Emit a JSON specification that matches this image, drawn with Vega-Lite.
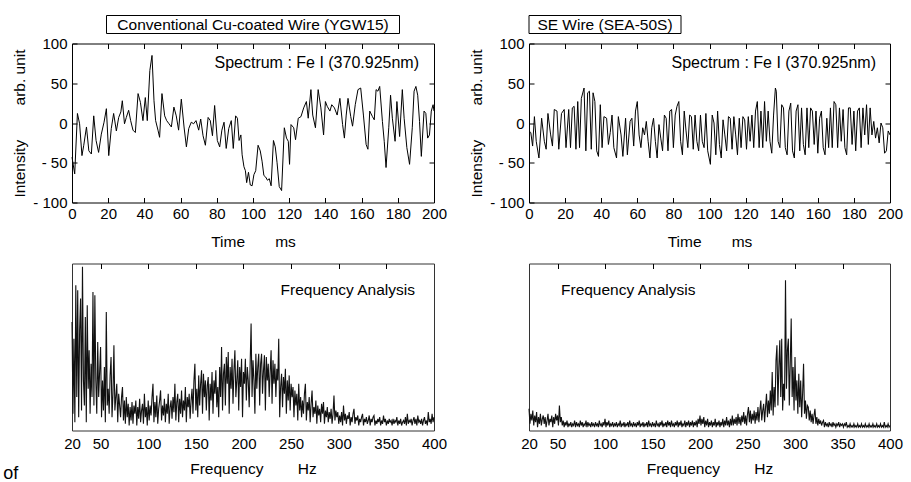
{
"$schema":"https://vega.github.io/schema/vega-lite/v6.json",
"background":"white",
"padding":{"left":3,"top":14.5,"right":5,"bottom":0},
"title":{"text":"of","orient":"bottom","anchor":"start","frame":"bounds","fontSize":18,"offset":-12,"dx":-9},
"config":{
 "font":"Liberation Sans",
 "view":{"stroke":"black","strokeWidth":1},
 "axis":{"labelFont":"Liberation Sans","labelFontSize":15,"labelColor":"black","titleFont":"Liberation Sans","titleFontSize":15.5,"titleFontWeight":"normal","titleColor":"black","tickColor":"black","tickWidth":1,"domain":false,"grid":false,"labelFlush":false,"labelOverlap":false},
 "title":{"font":"Liberation Sans","fontWeight":"normal","color":"black","fontSize":15.5}
},
"datasets":{
"tl":[{"t":0,"v":-43},{"t":1.5,"v":-64},{"t":3,"v":12},{"t":4.2,"v":-1},{"t":5.5,"v":-41},{"t":6.5,"v":-28},{"t":8,"v":-5},{"t":9.3,"v":-35},{"t":10.7,"v":-39},{"t":12,"v":9},{"t":13.3,"v":-22},{"t":14.7,"v":-37},{"t":16.2,"v":-14},{"t":17.7,"v":1},{"t":19,"v":18},{"t":20.3,"v":-41},{"t":21.7,"v":-7},{"t":23,"v":12},{"t":24.5,"v":-10},{"t":25.8,"v":7},{"t":27,"v":14},{"t":27.8,"v":28},{"t":29,"v":-1},{"t":30,"v":7},{"t":31.3,"v":16},{"t":32.4,"v":3},{"t":33.7,"v":-9},{"t":35,"v":-12},{"t":36.5,"v":37},{"t":37.8,"v":26},{"t":39.2,"v":3},{"t":40.5,"v":32},{"t":41.6,"v":3},{"t":43,"v":66},{"t":44.2,"v":85},{"t":45.3,"v":28},{"t":46.2,"v":3},{"t":47.5,"v":-9},{"t":48.4,"v":-18},{"t":49.7,"v":37},{"t":51.2,"v":9},{"t":52.3,"v":3},{"t":53.6,"v":-1},{"t":54.9,"v":-5},{"t":56.3,"v":20},{"t":57.6,"v":9},{"t":58.9,"v":-9},{"t":60.4,"v":30},{"t":61.9,"v":-5},{"t":63.2,"v":-30},{"t":64.5,"v":-7},{"t":65.9,"v":1},{"t":67.2,"v":-1},{"t":68.5,"v":3},{"t":70,"v":-9},{"t":71.1,"v":5},{"t":72.4,"v":-16},{"t":73.7,"v":-28},{"t":75.2,"v":7},{"t":76.4,"v":3},{"t":77.6,"v":-16},{"t":78.8,"v":22},{"t":80.3,"v":-22},{"t":81.6,"v":-30},{"t":82.8,"v":-9},{"t":84,"v":1},{"t":85.2,"v":-32},{"t":86.6,"v":-7},{"t":88,"v":3},{"t":89.1,"v":-32},{"t":90.4,"v":9},{"t":91.4,"v":6},{"t":92.3,"v":-22},{"t":93.3,"v":-15},{"t":94,"v":-40},{"t":95,"v":-55},{"t":95.8,"v":-60},{"t":96.5,"v":-75},{"t":97.5,"v":-62},{"t":98.5,"v":-78},{"t":99.5,"v":-79},{"t":100.5,"v":-65},{"t":101.5,"v":-60},{"t":102.8,"v":-28},{"t":104,"v":-35},{"t":105,"v":-48},{"t":106,"v":-66},{"t":107,"v":-68},{"t":108,"v":-72},{"t":109,"v":-70},{"t":110,"v":-79},{"t":111.3,"v":-22},{"t":112.3,"v":-30},{"t":113.3,"v":-50},{"t":114.5,"v":-80},{"t":115.8,"v":-85},{"t":117.3,"v":-6},{"t":118.5,"v":-19},{"t":119.5,"v":-23},{"t":120.2,"v":-52},{"t":121,"v":-2},{"t":122.5,"v":-6},{"t":123.5,"v":-21},{"t":125,"v":6},{"t":126.5,"v":8},{"t":128,"v":19},{"t":129.5,"v":27},{"t":130.5,"v":6},{"t":132,"v":42},{"t":133,"v":10},{"t":134.5,"v":-6},{"t":136,"v":42},{"t":137.5,"v":19},{"t":139,"v":-15},{"t":140,"v":27},{"t":141,"v":21},{"t":142.5,"v":15},{"t":143.5,"v":23},{"t":145,"v":19},{"t":146.5,"v":10},{"t":148,"v":31},{"t":149.5,"v":-2},{"t":150.5,"v":-19},{"t":151.5,"v":10},{"t":152.5,"v":31},{"t":154,"v":8},{"t":155,"v":-4},{"t":156.5,"v":23},{"t":158,"v":42},{"t":159.5,"v":44},{"t":161,"v":10},{"t":162.5,"v":-27},{"t":163.5,"v":-33},{"t":164.5,"v":15},{"t":166,"v":8},{"t":167,"v":4},{"t":168,"v":42},{"t":169,"v":40},{"t":170,"v":46},{"t":171.5,"v":2},{"t":172.5,"v":-23},{"t":173.5,"v":-56},{"t":175,"v":-6},{"t":176,"v":35},{"t":177,"v":6},{"t":178.5,"v":-23},{"t":179.5,"v":27},{"t":181,"v":-17},{"t":182.5,"v":42},{"t":183.5,"v":6},{"t":185,"v":-31},{"t":186.5,"v":-52},{"t":188,"v":-6},{"t":189,"v":40},{"t":190,"v":46},{"t":191,"v":35},{"t":192,"v":2},{"t":193,"v":-42},{"t":194.5,"v":15},{"t":195.5,"v":12},{"t":196.5,"v":-19},{"t":197.5,"v":-15},{"t":198.5,"v":15},{"t":199.5,"v":23},{"t":200,"v":15}],
"tr":[{"t":0,"v":-10},{"t":1,"v":-12},{"t":2,"v":-29},{"t":3,"v":8},{"t":4,"v":-23},{"t":5.5,"v":-44},{"t":7,"v":6},{"t":8.5,"v":-23},{"t":9.5,"v":-33},{"t":10.5,"v":12},{"t":12,"v":-15},{"t":13,"v":-29},{"t":14,"v":17},{"t":15.5,"v":15},{"t":16.5,"v":-33},{"t":18,"v":12},{"t":19.5,"v":17},{"t":20.5,"v":-31},{"t":22,"v":17},{"t":23,"v":-31},{"t":24,"v":19},{"t":25,"v":21},{"t":26,"v":-33},{"t":27,"v":27},{"t":28,"v":-31},{"t":29,"v":31},{"t":30.5,"v":44},{"t":31.5,"v":-35},{"t":32.5,"v":38},{"t":33.5,"v":40},{"t":34.5,"v":-33},{"t":35.5,"v":38},{"t":36.5,"v":27},{"t":37.5,"v":-35},{"t":38.5,"v":-42},{"t":39.5,"v":23},{"t":40.5,"v":-31},{"t":41.5,"v":8},{"t":43,"v":6},{"t":44,"v":-27},{"t":45,"v":-12},{"t":46,"v":10},{"t":47,"v":-31},{"t":48.5,"v":-44},{"t":49.5,"v":8},{"t":51,"v":-15},{"t":52,"v":-42},{"t":53.5,"v":6},{"t":54.5,"v":-40},{"t":56,"v":2},{"t":57,"v":6},{"t":58,"v":-29},{"t":59,"v":15},{"t":60,"v":27},{"t":61,"v":-15},{"t":62,"v":-31},{"t":63,"v":-6},{"t":64,"v":-15},{"t":65,"v":2},{"t":66,"v":-23},{"t":67,"v":-44},{"t":68,"v":-6},{"t":69,"v":6},{"t":70,"v":-23},{"t":71,"v":-44},{"t":72,"v":-2},{"t":73,"v":-19},{"t":74,"v":-35},{"t":75,"v":10},{"t":76,"v":6},{"t":77,"v":-35},{"t":78,"v":15},{"t":79,"v":17},{"t":80,"v":-31},{"t":81,"v":10},{"t":82,"v":21},{"t":83,"v":27},{"t":84,"v":-23},{"t":85,"v":-40},{"t":86,"v":15},{"t":87,"v":-10},{"t":88,"v":-31},{"t":89,"v":10},{"t":90,"v":8},{"t":91,"v":-33},{"t":92,"v":10},{"t":93,"v":-23},{"t":94,"v":-35},{"t":95,"v":10},{"t":96,"v":-23},{"t":97,"v":-31},{"t":98,"v":12},{"t":99,"v":-35},{"t":100.5,"v":-52},{"t":101.5,"v":10},{"t":102.5,"v":0},{"t":103.5,"v":-40},{"t":104.5,"v":15},{"t":105.5,"v":-27},{"t":106.5,"v":-44},{"t":107.5,"v":4},{"t":108.5,"v":-15},{"t":109.5,"v":-35},{"t":110.5,"v":8},{"t":111.5,"v":6},{"t":112.5,"v":-33},{"t":113.5,"v":8},{"t":114.5,"v":-15},{"t":115.5,"v":-40},{"t":116.5,"v":6},{"t":117.5,"v":-31},{"t":118.5,"v":8},{"t":119.5,"v":4},{"t":120.5,"v":-33},{"t":121.5,"v":8},{"t":122.5,"v":-23},{"t":123.5,"v":10},{"t":124.5,"v":-31},{"t":125.5,"v":15},{"t":126.5,"v":27},{"t":127.5,"v":-31},{"t":128.5,"v":15},{"t":129.5,"v":-31},{"t":130.5,"v":27},{"t":131.5,"v":-23},{"t":132.5,"v":15},{"t":133.5,"v":-23},{"t":134.5,"v":-38},{"t":135.5,"v":10},{"t":136.5,"v":44},{"t":137,"v":40},{"t":138,"v":-23},{"t":139,"v":-31},{"t":140,"v":23},{"t":141,"v":19},{"t":142,"v":-31},{"t":143,"v":-40},{"t":144,"v":15},{"t":145,"v":25},{"t":146,"v":-35},{"t":147,"v":-44},{"t":148,"v":15},{"t":149,"v":23},{"t":150,"v":-35},{"t":151,"v":19},{"t":152,"v":-27},{"t":153,"v":-40},{"t":154,"v":19},{"t":155,"v":-31},{"t":156,"v":19},{"t":157,"v":15},{"t":158,"v":-27},{"t":159,"v":15},{"t":160,"v":-38},{"t":161,"v":6},{"t":162,"v":15},{"t":163,"v":-31},{"t":164,"v":-40},{"t":165,"v":6},{"t":166,"v":-31},{"t":167,"v":19},{"t":168,"v":-31},{"t":169,"v":27},{"t":170,"v":23},{"t":171,"v":-31},{"t":172,"v":19},{"t":173,"v":-23},{"t":174,"v":17},{"t":175,"v":-31},{"t":176,"v":-40},{"t":177,"v":19},{"t":178,"v":19},{"t":179,"v":-27},{"t":180,"v":15},{"t":181,"v":-35},{"t":182,"v":15},{"t":183,"v":19},{"t":184,"v":-31},{"t":185,"v":19},{"t":186,"v":-15},{"t":187,"v":23},{"t":188,"v":-27},{"t":189,"v":19},{"t":190,"v":-15},{"t":191,"v":2},{"t":192,"v":-19},{"t":193,"v":-6},{"t":194,"v":-25},{"t":195,"v":0},{"t":196,"v":-6},{"t":197,"v":-38},{"t":198,"v":-35},{"t":199,"v":-10},{"t":200,"v":-15}],
"fl":[{"f":20,"a":65},{"f":21,"a":10},{"f":22,"a":55},{"f":23,"a":5},{"f":24,"a":87},{"f":25,"a":20},{"f":26,"a":84},{"f":27,"a":8},{"f":28,"a":60},{"f":29,"a":79},{"f":30,"a":12},{"f":31,"a":98},{"f":32,"a":30},{"f":33,"a":15},{"f":34,"a":68},{"f":35,"a":5},{"f":36,"a":75},{"f":37,"a":25},{"f":38,"a":48},{"f":39,"a":10},{"f":40,"a":40},{"f":41,"a":20},{"f":42,"a":83},{"f":43,"a":15},{"f":44,"a":81},{"f":45,"a":30},{"f":46,"a":10},{"f":47,"a":53},{"f":48,"a":20},{"f":49,"a":35},{"f":50,"a":50},{"f":51,"a":8},{"f":52,"a":30},{"f":53,"a":12},{"f":54,"a":38},{"f":55,"a":5},{"f":56,"a":71},{"f":57,"a":15},{"f":58,"a":25},{"f":59,"a":10},{"f":60,"a":33},{"f":61,"a":44},{"f":62,"a":8},{"f":63,"a":22},{"f":64,"a":51},{"f":65,"a":12},{"f":66,"a":20},{"f":67,"a":28},{"f":68,"a":5},{"f":69,"a":22},{"f":70,"a":15},{"f":71,"a":8},{"f":72,"a":20},{"f":73,"a":26},{"f":74,"a":6},{"f":75,"a":18},{"f":76,"a":4},{"f":77,"a":20},{"f":78,"a":8},{"f":79,"a":16},{"f":80,"a":3},{"f":81,"a":14},{"f":82,"a":6},{"f":83,"a":17},{"f":84,"a":4},{"f":85,"a":15},{"f":86,"a":10},{"f":87,"a":18},{"f":88,"a":3},{"f":89,"a":14},{"f":90,"a":7},{"f":91,"a":19},{"f":92,"a":5},{"f":93,"a":12},{"f":94,"a":16},{"f":95,"a":4},{"f":96,"a":22},{"f":97,"a":8},{"f":98,"a":14},{"f":99,"a":3},{"f":100,"a":18},{"f":101,"a":6},{"f":102,"a":15},{"f":103,"a":9},{"f":104,"a":20},{"f":105,"a":28},{"f":106,"a":5},{"f":107,"a":17},{"f":108,"a":8},{"f":109,"a":21},{"f":110,"a":4},{"f":111,"a":13},{"f":112,"a":18},{"f":113,"a":24},{"f":114,"a":6},{"f":115,"a":15},{"f":116,"a":9},{"f":117,"a":19},{"f":118,"a":5},{"f":119,"a":16},{"f":120,"a":10},{"f":121,"a":22},{"f":122,"a":4},{"f":123,"a":14},{"f":124,"a":18},{"f":125,"a":7},{"f":126,"a":20},{"f":127,"a":11},{"f":128,"a":28},{"f":129,"a":6},{"f":130,"a":17},{"f":131,"a":22},{"f":132,"a":5},{"f":133,"a":19},{"f":134,"a":10},{"f":135,"a":24},{"f":136,"a":8},{"f":137,"a":18},{"f":138,"a":12},{"f":139,"a":26},{"f":140,"a":5},{"f":141,"a":20},{"f":142,"a":14},{"f":143,"a":22},{"f":144,"a":7},{"f":145,"a":18},{"f":146,"a":25},{"f":147,"a":10},{"f":148,"a":30},{"f":149,"a":40},{"f":150,"a":12},{"f":151,"a":25},{"f":152,"a":8},{"f":153,"a":33},{"f":154,"a":15},{"f":155,"a":28},{"f":156,"a":36},{"f":157,"a":10},{"f":158,"a":34},{"f":159,"a":20},{"f":160,"a":30},{"f":161,"a":12},{"f":162,"a":27},{"f":163,"a":32},{"f":164,"a":6},{"f":165,"a":28},{"f":166,"a":18},{"f":167,"a":35},{"f":168,"a":10},{"f":169,"a":30},{"f":170,"a":22},{"f":171,"a":36},{"f":172,"a":14},{"f":173,"a":26},{"f":174,"a":8},{"f":175,"a":38},{"f":176,"a":20},{"f":177,"a":50},{"f":178,"a":12},{"f":179,"a":34},{"f":180,"a":40},{"f":181,"a":15},{"f":182,"a":44},{"f":183,"a":28},{"f":184,"a":47},{"f":185,"a":10},{"f":186,"a":38},{"f":187,"a":25},{"f":188,"a":43},{"f":189,"a":16},{"f":190,"a":36},{"f":191,"a":48},{"f":192,"a":20},{"f":193,"a":30},{"f":194,"a":42},{"f":195,"a":12},{"f":196,"a":38},{"f":197,"a":26},{"f":198,"a":43},{"f":199,"a":8},{"f":200,"a":35},{"f":201,"a":28},{"f":202,"a":43},{"f":203,"a":18},{"f":204,"a":38},{"f":205,"a":30},{"f":206,"a":14},{"f":207,"a":40},{"f":208,"a":64},{"f":209,"a":20},{"f":210,"a":42},{"f":211,"a":30},{"f":212,"a":10},{"f":213,"a":46},{"f":214,"a":25},{"f":215,"a":38},{"f":216,"a":46},{"f":217,"a":15},{"f":218,"a":40},{"f":219,"a":46},{"f":220,"a":22},{"f":221,"a":36},{"f":222,"a":45},{"f":223,"a":12},{"f":224,"a":44},{"f":225,"a":30},{"f":226,"a":40},{"f":227,"a":20},{"f":228,"a":35},{"f":229,"a":48},{"f":230,"a":16},{"f":231,"a":42},{"f":232,"a":28},{"f":233,"a":40},{"f":234,"a":20},{"f":235,"a":37},{"f":236,"a":30},{"f":237,"a":55},{"f":238,"a":8},{"f":239,"a":26},{"f":240,"a":34},{"f":241,"a":14},{"f":242,"a":32},{"f":243,"a":22},{"f":244,"a":37},{"f":245,"a":10},{"f":246,"a":30},{"f":247,"a":18},{"f":248,"a":33},{"f":249,"a":12},{"f":250,"a":28},{"f":251,"a":20},{"f":252,"a":26},{"f":253,"a":8},{"f":254,"a":24},{"f":255,"a":15},{"f":256,"a":22},{"f":257,"a":6},{"f":258,"a":28},{"f":259,"a":12},{"f":260,"a":20},{"f":261,"a":8},{"f":262,"a":18},{"f":263,"a":10},{"f":264,"a":22},{"f":265,"a":28},{"f":266,"a":6},{"f":267,"a":17},{"f":268,"a":12},{"f":269,"a":20},{"f":270,"a":5},{"f":271,"a":16},{"f":272,"a":24},{"f":273,"a":8},{"f":274,"a":14},{"f":275,"a":10},{"f":276,"a":18},{"f":277,"a":4},{"f":278,"a":15},{"f":279,"a":9},{"f":280,"a":13},{"f":281,"a":5},{"f":282,"a":16},{"f":283,"a":10},{"f":284,"a":17},{"f":285,"a":4},{"f":286,"a":12},{"f":287,"a":8},{"f":288,"a":14},{"f":289,"a":5},{"f":290,"a":11},{"f":291,"a":7},{"f":292,"a":13},{"f":293,"a":4},{"f":294,"a":10},{"f":295,"a":21},{"f":296,"a":6},{"f":297,"a":12},{"f":298,"a":8},{"f":299,"a":11},{"f":300,"a":4},{"f":301,"a":9},{"f":302,"a":5},{"f":303,"a":11},{"f":304,"a":3},{"f":305,"a":15},{"f":306,"a":6},{"f":307,"a":10},{"f":308,"a":4},{"f":309,"a":9},{"f":310,"a":7},{"f":311,"a":11},{"f":312,"a":3},{"f":313,"a":8},{"f":314,"a":5},{"f":315,"a":10},{"f":316,"a":13},{"f":317,"a":4},{"f":318,"a":8},{"f":319,"a":6},{"f":320,"a":9},{"f":321,"a":3},{"f":322,"a":7},{"f":323,"a":5},{"f":324,"a":8},{"f":325,"a":10},{"f":326,"a":3},{"f":327,"a":7},{"f":328,"a":5},{"f":329,"a":8},{"f":330,"a":4},{"f":331,"a":6},{"f":332,"a":9},{"f":333,"a":3},{"f":334,"a":7},{"f":335,"a":5},{"f":336,"a":8},{"f":337,"a":9},{"f":338,"a":3},{"f":339,"a":6},{"f":340,"a":4},{"f":341,"a":7},{"f":342,"a":5},{"f":343,"a":8},{"f":344,"a":3},{"f":345,"a":6},{"f":346,"a":4},{"f":347,"a":9},{"f":348,"a":5},{"f":349,"a":7},{"f":350,"a":3},{"f":351,"a":6},{"f":352,"a":4},{"f":353,"a":7},{"f":354,"a":5},{"f":355,"a":6},{"f":356,"a":3},{"f":357,"a":7},{"f":358,"a":4},{"f":359,"a":6},{"f":360,"a":5},{"f":361,"a":8},{"f":362,"a":3},{"f":363,"a":6},{"f":364,"a":4},{"f":365,"a":7},{"f":366,"a":3},{"f":367,"a":5},{"f":368,"a":6},{"f":369,"a":4},{"f":370,"a":8},{"f":371,"a":3},{"f":372,"a":10},{"f":373,"a":4},{"f":374,"a":6},{"f":375,"a":5},{"f":376,"a":7},{"f":377,"a":3},{"f":378,"a":6},{"f":379,"a":8},{"f":380,"a":4},{"f":381,"a":7},{"f":382,"a":3},{"f":383,"a":9},{"f":384,"a":5},{"f":385,"a":6},{"f":386,"a":4},{"f":387,"a":7},{"f":388,"a":3},{"f":389,"a":6},{"f":390,"a":8},{"f":391,"a":4},{"f":392,"a":6},{"f":393,"a":3},{"f":394,"a":11},{"f":395,"a":5},{"f":396,"a":7},{"f":397,"a":4},{"f":398,"a":10},{"f":399,"a":5},{"f":400,"a":8}],
"fr":[{"f":20,"a":13},{"f":21,"a":4},{"f":22,"a":10},{"f":23,"a":6},{"f":24,"a":12},{"f":25,"a":3},{"f":26,"a":9},{"f":27,"a":5},{"f":28,"a":11},{"f":29,"a":2},{"f":30,"a":8},{"f":31,"a":4},{"f":32,"a":10},{"f":33,"a":3},{"f":34,"a":7},{"f":35,"a":9},{"f":36,"a":4},{"f":37,"a":8},{"f":38,"a":2},{"f":39,"a":6},{"f":40,"a":10},{"f":41,"a":3},{"f":42,"a":7},{"f":43,"a":5},{"f":44,"a":9},{"f":45,"a":2},{"f":46,"a":8},{"f":47,"a":4},{"f":48,"a":10},{"f":49,"a":6},{"f":50,"a":9},{"f":51,"a":3},{"f":52,"a":15},{"f":53,"a":5},{"f":54,"a":8},{"f":55,"a":3},{"f":56,"a":6},{"f":57,"a":2},{"f":58,"a":5},{"f":59,"a":3},{"f":60,"a":6},{"f":61,"a":2},{"f":62,"a":4},{"f":63,"a":3},{"f":64,"a":5},{"f":65,"a":2},{"f":66,"a":4},{"f":67,"a":3},{"f":68,"a":6},{"f":69,"a":2},{"f":70,"a":5},{"f":71,"a":3},{"f":72,"a":4},{"f":73,"a":2},{"f":74,"a":6},{"f":75,"a":3},{"f":76,"a":5},{"f":77,"a":2},{"f":78,"a":4},{"f":79,"a":3},{"f":80,"a":6},{"f":81,"a":2},{"f":82,"a":5},{"f":83,"a":3},{"f":84,"a":4},{"f":85,"a":2},{"f":86,"a":5},{"f":87,"a":3},{"f":88,"a":4},{"f":89,"a":2},{"f":90,"a":5},{"f":91,"a":3},{"f":92,"a":4},{"f":93,"a":2},{"f":94,"a":6},{"f":95,"a":3},{"f":96,"a":4},{"f":97,"a":2},{"f":98,"a":5},{"f":99,"a":3},{"f":100,"a":7},{"f":101,"a":2},{"f":102,"a":5},{"f":103,"a":3},{"f":104,"a":6},{"f":105,"a":2},{"f":106,"a":4},{"f":107,"a":3},{"f":108,"a":5},{"f":109,"a":2},{"f":110,"a":4},{"f":111,"a":3},{"f":112,"a":5},{"f":113,"a":2},{"f":114,"a":4},{"f":115,"a":3},{"f":116,"a":6},{"f":117,"a":2},{"f":118,"a":4},{"f":119,"a":3},{"f":120,"a":5},{"f":121,"a":2},{"f":122,"a":4},{"f":123,"a":3},{"f":124,"a":5},{"f":125,"a":2},{"f":126,"a":6},{"f":127,"a":3},{"f":128,"a":4},{"f":129,"a":2},{"f":130,"a":5},{"f":131,"a":3},{"f":132,"a":4},{"f":133,"a":2},{"f":134,"a":5},{"f":135,"a":3},{"f":136,"a":6},{"f":137,"a":2},{"f":138,"a":4},{"f":139,"a":3},{"f":140,"a":5},{"f":141,"a":2},{"f":142,"a":4},{"f":143,"a":3},{"f":144,"a":5},{"f":145,"a":2},{"f":146,"a":6},{"f":147,"a":3},{"f":148,"a":4},{"f":149,"a":2},{"f":150,"a":5},{"f":151,"a":3},{"f":152,"a":4},{"f":153,"a":2},{"f":154,"a":6},{"f":155,"a":3},{"f":156,"a":4},{"f":157,"a":2},{"f":158,"a":5},{"f":159,"a":3},{"f":160,"a":6},{"f":161,"a":2},{"f":162,"a":4},{"f":163,"a":3},{"f":164,"a":5},{"f":165,"a":2},{"f":166,"a":6},{"f":167,"a":3},{"f":168,"a":5},{"f":169,"a":2},{"f":170,"a":6},{"f":171,"a":3},{"f":172,"a":4},{"f":173,"a":2},{"f":174,"a":5},{"f":175,"a":3},{"f":176,"a":6},{"f":177,"a":2},{"f":178,"a":5},{"f":179,"a":3},{"f":180,"a":6},{"f":181,"a":2},{"f":182,"a":4},{"f":183,"a":3},{"f":184,"a":6},{"f":185,"a":2},{"f":186,"a":5},{"f":187,"a":3},{"f":188,"a":6},{"f":189,"a":2},{"f":190,"a":5},{"f":191,"a":3},{"f":192,"a":6},{"f":193,"a":2},{"f":194,"a":5},{"f":195,"a":3},{"f":196,"a":6},{"f":197,"a":2},{"f":198,"a":7},{"f":199,"a":4},{"f":200,"a":9},{"f":201,"a":3},{"f":202,"a":7},{"f":203,"a":4},{"f":204,"a":8},{"f":205,"a":2},{"f":206,"a":6},{"f":207,"a":3},{"f":208,"a":7},{"f":209,"a":2},{"f":210,"a":5},{"f":211,"a":3},{"f":212,"a":6},{"f":213,"a":2},{"f":214,"a":5},{"f":215,"a":3},{"f":216,"a":7},{"f":217,"a":2},{"f":218,"a":5},{"f":219,"a":3},{"f":220,"a":6},{"f":221,"a":2},{"f":222,"a":5},{"f":223,"a":3},{"f":224,"a":7},{"f":225,"a":2},{"f":226,"a":6},{"f":227,"a":3},{"f":228,"a":8},{"f":229,"a":3},{"f":230,"a":6},{"f":231,"a":2},{"f":232,"a":7},{"f":233,"a":3},{"f":234,"a":9},{"f":235,"a":3},{"f":236,"a":7},{"f":237,"a":4},{"f":238,"a":8},{"f":239,"a":3},{"f":240,"a":10},{"f":241,"a":4},{"f":242,"a":8},{"f":243,"a":3},{"f":244,"a":9},{"f":245,"a":5},{"f":246,"a":11},{"f":247,"a":4},{"f":248,"a":9},{"f":249,"a":3},{"f":250,"a":10},{"f":251,"a":14},{"f":252,"a":5},{"f":253,"a":12},{"f":254,"a":4},{"f":255,"a":10},{"f":256,"a":6},{"f":257,"a":12},{"f":258,"a":4},{"f":259,"a":11},{"f":260,"a":6},{"f":261,"a":14},{"f":262,"a":5},{"f":263,"a":12},{"f":264,"a":18},{"f":265,"a":6},{"f":266,"a":12},{"f":267,"a":16},{"f":268,"a":5},{"f":269,"a":14},{"f":270,"a":22},{"f":271,"a":8},{"f":272,"a":18},{"f":273,"a":10},{"f":274,"a":24},{"f":275,"a":12},{"f":276,"a":35},{"f":277,"a":9},{"f":278,"a":26},{"f":279,"a":14},{"f":280,"a":42},{"f":281,"a":51},{"f":282,"a":15},{"f":283,"a":38},{"f":284,"a":54},{"f":285,"a":20},{"f":286,"a":55},{"f":287,"a":12},{"f":288,"a":28},{"f":289,"a":18},{"f":290,"a":90},{"f":291,"a":25},{"f":292,"a":48},{"f":293,"a":55},{"f":294,"a":15},{"f":295,"a":40},{"f":296,"a":67},{"f":297,"a":20},{"f":298,"a":38},{"f":299,"a":12},{"f":300,"a":44},{"f":301,"a":18},{"f":302,"a":30},{"f":303,"a":10},{"f":304,"a":34},{"f":305,"a":14},{"f":306,"a":30},{"f":307,"a":8},{"f":308,"a":22},{"f":309,"a":40},{"f":310,"a":10},{"f":311,"a":18},{"f":312,"a":7},{"f":313,"a":15},{"f":314,"a":14},{"f":315,"a":6},{"f":316,"a":12},{"f":317,"a":5},{"f":318,"a":10},{"f":319,"a":4},{"f":320,"a":9},{"f":321,"a":13},{"f":322,"a":4},{"f":323,"a":8},{"f":324,"a":3},{"f":325,"a":7},{"f":326,"a":4},{"f":327,"a":6},{"f":328,"a":3},{"f":329,"a":5},{"f":330,"a":6},{"f":331,"a":2},{"f":332,"a":5},{"f":333,"a":3},{"f":334,"a":4},{"f":335,"a":2},{"f":336,"a":5},{"f":337,"a":3},{"f":338,"a":4},{"f":339,"a":2},{"f":340,"a":5},{"f":341,"a":3},{"f":342,"a":4},{"f":343,"a":2},{"f":344,"a":4},{"f":345,"a":3},{"f":346,"a":5},{"f":347,"a":2},{"f":348,"a":4},{"f":349,"a":3},{"f":350,"a":4},{"f":351,"a":2},{"f":352,"a":4},{"f":353,"a":3},{"f":354,"a":5},{"f":355,"a":2},{"f":356,"a":3},{"f":357,"a":2},{"f":358,"a":4},{"f":359,"a":2},{"f":360,"a":3},{"f":361,"a":2},{"f":362,"a":4},{"f":363,"a":2},{"f":364,"a":3},{"f":365,"a":2},{"f":366,"a":4},{"f":367,"a":2},{"f":368,"a":3},{"f":369,"a":2},{"f":370,"a":4},{"f":371,"a":2},{"f":372,"a":3},{"f":373,"a":2},{"f":374,"a":4},{"f":375,"a":2},{"f":376,"a":3},{"f":377,"a":2},{"f":378,"a":4},{"f":379,"a":2},{"f":380,"a":3},{"f":381,"a":2},{"f":382,"a":4},{"f":383,"a":2},{"f":384,"a":3},{"f":385,"a":2},{"f":386,"a":4},{"f":387,"a":2},{"f":388,"a":3},{"f":389,"a":2},{"f":390,"a":4},{"f":391,"a":2},{"f":392,"a":3},{"f":393,"a":2},{"f":394,"a":5},{"f":395,"a":2},{"f":396,"a":3},{"f":397,"a":2},{"f":398,"a":4},{"f":399,"a":2},{"f":400,"a":3}]
},
"concat":[
 {"width":293,"height":18,"view":{"stroke":null},"data":{"values":[{"name":"Conventional Cu-coated Wire (YGW15)"}]},
  "layer":[
   {"mark":{"type":"rect","fill":null,"stroke":"black","strokeWidth":1}},
   {"mark":{"type":"text","fontSize":15.5,"color":"black","font":"Liberation Sans"},"encoding":{"text":{"field":"name"}}}
  ]},
 {"width":152,"height":18,"view":{"stroke":null},"data":{"values":[{"name":"SE Wire (SEA-50S)"}]},
  "layer":[
   {"mark":{"type":"rect","fill":null,"stroke":"black","strokeWidth":1}},
   {"mark":{"type":"text","fontSize":15.5,"color":"black","font":"Liberation Sans"},"encoding":{"text":{"field":"name"}}}
  ]},
 {"width":362,"height":159,"data":{"name":"tl"},
  "title":{"text":"Spectrum : Fe I (370.925nm)","anchor":"end","frame":"group","orient":"top","offset":-42,"dx":-15,"baseline":"middle","fontSize":16},
  "layer":[
   {"mark":{"type":"line","color":"black","strokeWidth":1},
    "encoding":{
     "x":{"field":"t","type":"quantitative","scale":{"domain":[0,200],"nice":false,"zero":false},"axis":{"orient":"bottom","values":[0,20,40,60,80,100,120,140,160,180,200],"tickSize":-5,"labelPadding":9,"title":"Time\u00a0\u00a0\u00a0\u00a0\u00a0\u00a0\u00a0ms","titlePadding":13}},
     "y":{"field":"v","type":"quantitative","scale":{"domain":[-100,100],"nice":false,"zero":false},"axis":{"orient":"left","values":[-100,-50,0,50,100],"tickSize":-5,"labelPadding":10,"labelExpr":"datum.value < 0 ? '- ' + format(-datum.value, 'd') : datum.label","title":"Intensity\u00a0\u00a0\u00a0\u00a0\u00a0\u00a0\u00a0\u00a0arb. unit","titlePadding":5}}}},
   {"mark":{"type":"line","strokeOpacity":0},
    "encoding":{
     "x":{"field":"t","type":"quantitative","axis":{"orient":"top","values":[20,40,60,80,100,120,140,160,180],"labels":false,"tickSize":-5,"title":null}},
     "y":{"field":"v","type":"quantitative","axis":{"orient":"right","values":[-50,0,50],"labels":false,"tickSize":-5,"title":null}}}}
  ],
  "resolve":{"axis":{"x":"independent","y":"independent"}}},
 {"width":361,"height":159,"data":{"name":"tr"},
  "title":{"text":"Spectrum : Fe I (370.925nm)","anchor":"end","frame":"group","orient":"top","offset":-42,"dx":-14,"baseline":"middle","fontSize":16},
  "layer":[
   {"mark":{"type":"line","color":"black","strokeWidth":1},
    "encoding":{
     "x":{"field":"t","type":"quantitative","scale":{"domain":[0,200],"nice":false,"zero":false},"axis":{"orient":"bottom","values":[0,20,40,60,80,100,120,140,160,180,200],"tickSize":-5,"labelPadding":9,"title":"Time\u00a0\u00a0\u00a0\u00a0\u00a0\u00a0\u00a0ms","titlePadding":13}},
     "y":{"field":"v","type":"quantitative","scale":{"domain":[-100,100],"nice":false,"zero":false},"axis":{"orient":"left","values":[-100,-50,0,50,100],"tickSize":-5,"labelPadding":10,"labelExpr":"datum.value < 0 ? '- ' + format(-datum.value, 'd') : datum.label","title":"Intensity\u00a0\u00a0\u00a0\u00a0\u00a0\u00a0\u00a0\u00a0arb. unit","titlePadding":5}}}},
   {"mark":{"type":"line","strokeOpacity":0},
    "encoding":{
     "x":{"field":"t","type":"quantitative","axis":{"orient":"top","values":[20,40,60,80,100,120,140,160,180],"labels":false,"tickSize":-5,"title":null}},
     "y":{"field":"v","type":"quantitative","axis":{"orient":"right","values":[-50,0,50],"labels":false,"tickSize":-5,"title":null}}}}
  ],
  "resolve":{"axis":{"x":"independent","y":"independent"}}},
 {"width":362,"height":41,"view":{"stroke":null},"data":{"values":[{}]},"mark":{"type":"text","opacity":0},"encoding":{"text":{"value":""}}},
 {"width":361,"height":41,"view":{"stroke":null},"data":{"values":[{}]},"mark":{"type":"text","opacity":0},"encoding":{"text":{"value":""}}},
 {"width":362,"height":167,"data":{"name":"fl"},"view":{"stroke":"#333"},
  "title":{"text":"Frequency Analysis","anchor":"end","frame":"group","orient":"top","offset":-42,"dx":-19,"baseline":"middle","fontSize":15.5},
  "layer":[
   {"mark":{"type":"line","color":"#111","strokeWidth":1.1},
    "encoding":{
     "x":{"field":"f","type":"quantitative","scale":{"domain":[20,400],"nice":false,"zero":false},"axis":{"orient":"bottom","values":[20,50,100,150,200,250,300,350,400],"ticks":false,"labelPadding":5.6,"title":"Frequency\u00a0\u00a0\u00a0\u00a0\u00a0\u00a0\u00a0\u00a0Hz","titlePadding":10}},
     "y":{"field":"a","type":"quantitative","scale":{"domain":[0,100],"nice":false},"axis":null}}},
   {"mark":{"type":"line","strokeOpacity":0},
    "encoding":{
     "x":{"field":"f","type":"quantitative","axis":{"orient":"top","values":[50,100,150,200,250,300,350],"labels":false,"tickSize":-5,"title":null}},
     "y":{"field":"a","type":"quantitative","axis":null}}}
  ],
  "resolve":{"axis":{"x":"independent"}}},
 {"width":361,"height":167,"data":{"name":"fr"},"view":{"stroke":"#333"},
  "title":{"text":"Frequency Analysis","anchor":"start","frame":"group","orient":"top","offset":-42,"dx":32,"baseline":"middle","fontSize":15.5},
  "layer":[
   {"mark":{"type":"line","color":"#111","strokeWidth":1.1},
    "encoding":{
     "x":{"field":"f","type":"quantitative","scale":{"domain":[20,400],"nice":false,"zero":false},"axis":{"orient":"bottom","values":[20,50,100,150,200,250,300,350,400],"ticks":false,"labelPadding":5.6,"title":"Frequency\u00a0\u00a0\u00a0\u00a0\u00a0\u00a0\u00a0\u00a0Hz","titlePadding":10}},
     "y":{"field":"a","type":"quantitative","scale":{"domain":[0,100],"nice":false},"axis":null}}},
   {"mark":{"type":"line","strokeOpacity":0},
    "encoding":{
     "x":{"field":"f","type":"quantitative","axis":{"orient":"top","values":[50,100,150,200,250,300,350],"labels":false,"tickSize":-5,"title":null}},
     "y":{"field":"a","type":"quantitative","axis":null}}}
  ],
  "resolve":{"axis":{"x":"independent"}}}
],
"columns":2,
"bounds":"flush",
"center":true,
"spacing":{"row":10,"column":95}
}
